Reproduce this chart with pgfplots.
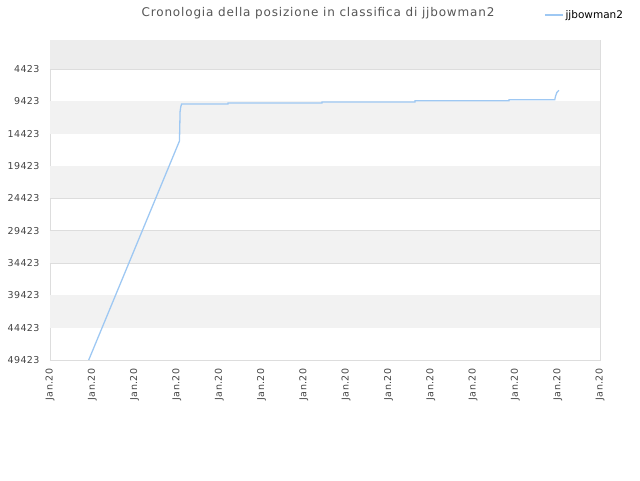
\documentclass[border=0pt]{standalone}
\usepackage{fontspec}
\setmainfont{DejaVu Sans}
\usepackage{pgfplots}
\pgfplotsset{compat=1.18}
\definecolor{rankline}{HTML}{9EC8F3}
\definecolor{bandA}{HTML}{F2F2F2}
\definecolor{bandTop}{HTML}{EDEDED}
\definecolor{gridc}{HTML}{DDDDDD}
\definecolor{tickc}{HTML}{444444}
\definecolor{titlec}{HTML}{555555}

\begin{document}
\begin{tikzpicture}
\path[use as bounding box] (0pt,0pt) rectangle (640pt,480pt);
\begin{axis}[
    at={(50pt,120pt)}, anchor=south west,
    scale only axis,
    width=550pt, height=320pt,
    xmin=0, xmax=13,
    ymin=-60, ymax=49423,
    y dir=reverse,
    scaled y ticks=false,
    xtick={0,...,13},
    xticklabels={Jan.20,Jan.20,Jan.20,Jan.20,Jan.20,Jan.20,Jan.20,Jan.20,Jan.20,Jan.20,Jan.20,Jan.20,Jan.20,Jan.20},
    ytick={4423,9423,14423,19423,24423,29423,34423,39423,44423,49423},
    yticklabels={4423,9423,14423,19423,24423,29423,34423,39423,44423,49423},
    x tick label style={rotate=90, anchor=east, font=\fontsize{9.5}{11}\selectfont\addfontfeatures{LetterSpace=4}, text=tickc},
    y tick label style={font=\fontsize{9.5}{11}\selectfont\addfontfeatures{LetterSpace=4}, text=tickc},
    xticklabel shift=5pt, yticklabel shift=7pt,
    major tick length=0pt,
    ymajorgrids, grid style={gridc, line width=0.8pt},
    axis line style={gridc, line width=0.8pt},
    clip=false,
    legend style={at={(1.0,1.0)}, xshift=-56pt, yshift=25pt, anchor=west,
      draw=none, fill=none, inner sep=0pt, font=\fontsize{10.5}{12}\selectfont,
      legend cell align=left},
    legend image code/.code={\path (0pt,0pt) -- (18pt,0pt); \draw[#1, line width=1.2pt] (7pt,0pt) -- (17pt,0pt);},
]
% alternating background bands
\fill[bandTop] (axis cs:0,-60) rectangle (axis cs:13,4423);
\fill[bandA] (axis cs:0,9423) rectangle (axis cs:13,14423);
\fill[bandA] (axis cs:0,19423) rectangle (axis cs:13,24423);
\fill[bandA] (axis cs:0,29423) rectangle (axis cs:13,34423);
\fill[bandA] (axis cs:0,39423) rectangle (axis cs:13,44423);

\addplot[rankline, line width=1.3pt, mark=none] coordinates {
  (0.915,49423) (3.06,15558) (3.075,11000) (3.09,10300) (3.11,9836)
  (4.207,9836) (4.207,9681) (6.429,9681) (6.429,9526)
  (8.627,9526) (8.627,9340) (10.85,9340) (10.85,9190)
  (11.93,9190) (11.95,8600) (11.98,8057) (12.03,7717)
};
\legend{jjbowman2}
\end{axis}
\node[text=titlec, font=\fontsize{12}{14}\selectfont\addfontfeatures{LetterSpace=7}] at (318pt,467pt) {Cronologia della posizione in classifica di jjbowman2};
\end{tikzpicture}
\end{document}
